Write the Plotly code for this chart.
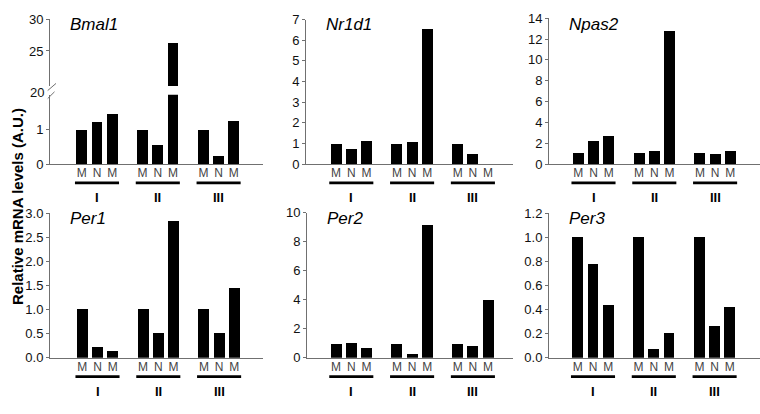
import plotly.graph_objects as go

# ---------------- data ----------------
categories = ["M", "N", "M"]
groups = ["I", "II", "III"]
genes = ["Bmal1", "Nr1d1", "Npas2", "Per1", "Per2", "Per3"]

bmal1 = [1.0, 1.22, 1.45, 1.0, 0.55, 26.2, 1.0, 0.25, 1.25]
nr1d1 = [1.0, 0.75, 1.15, 1.0, 1.07, 6.55, 1.0, 0.50, 0.0]
npas2 = [1.0, 2.2, 2.7, 1.0, 1.2, 12.8, 1.0, 0.9, 1.25]
per1 = [1.0, 0.21, 0.14, 1.0, 0.50, 2.83, 1.0, 0.52, 1.45]
per2 = [1.0, 1.02, 0.73, 1.0, 0.27, 9.15, 1.0, 0.86, 4.0]
per3 = [1.0, 0.78, 0.44, 1.0, 0.07, 0.20, 1.0, 0.26, 0.42]

y_ranges = [[0, 2], [0, 7], [0, 14], [0, 3], [0, 10], [0, 1.2]]
y_dticks = [1, 1, 2, 0.5, 2, 0.2]
y_formats = ["", "", "", ".1f", "", ".1f"]
bmal1_upper_range = [19.5, 30]
bmal1_upper_ticks = [25, 30]

# ---------------- layout helpers ----------------
W, H = 760, 414
FONT = "Liberation Sans, Arial, sans-serif"
AXCOL = "#707070"
UNIT = 15.2  # px per x unit

def px(x):
    return x / W

def py(y):
    return 1 - y / H

# per panel: axis x px, x-axis end px, group-I centre px, top px, bottom px
panels = [
    dict(x0=50, x1=263, c=97.0, top=91, bot=163),     # Bmal1 lower
    dict(x0=306, x1=513, c=351.3, top=13.0, bot=163),  # Nr1d1
    dict(x0=549, x1=760, c=593.5, top=11.7, bot=163),  # Npas2
    dict(x0=50, x1=263, c=97.5, top=214, bot=364),     # Per1
    dict(x0=307, x1=513, c=351.3, top=213.3, bot=364), # Per2
    dict(x0=549, x1=760, c=593.0, top=214, bot=364),   # Per3
]
values = [bmal1, nr1d1, npas2, per1, per2, per3]

xpos = []
for g in range(len(groups)):
    for k in range(len(categories)):
        xpos.append(g * 4 + k - 1)
ticktext = categories * len(groups)

fig = go.Figure()
layout = dict(
    width=W, height=H, autosize=False,
    margin=dict(l=0, r=0, t=0, b=0),
    paper_bgcolor="white", plot_bgcolor="white",
    showlegend=False, bargap=0,
    font=dict(family=FONT, size=12, color="#111"),
)
shapes = []
annotations = []

def add_axes(idx, p, yr, dtick, fmt, show_x=True, tickvals=None, ticktext_y=None):
    xname = "xaxis" if idx == 1 else f"xaxis{idx}"
    yname = "yaxis" if idx == 1 else f"yaxis{idx}"
    start = -1 - (p["c"] - UNIT - p["x0"]) / UNIT
    end = start + (p["x1"] - p["x0"]) / UNIT
    layout[xname] = dict(
        domain=[px(p["x0"]), px(p["x1"])], range=[start, end],
        anchor=f"y{idx}" if idx > 1 else "y",
        showline=show_x, linecolor=AXCOL, linewidth=1,
        showgrid=False, zeroline=False, ticks="",
        tickvals=xpos if show_x else [], ticktext=ticktext if show_x else [],
        showticklabels=show_x, ticklabelstandoff=-2,
        tickfont=dict(family=FONT, size=12, color="#444"),
        fixedrange=True,
    )
    yd = dict(
        domain=[py(p["bot"]), py(p["top"])], range=yr,
        anchor=f"x{idx}" if idx > 1 else "x",
        showline=True, linecolor=AXCOL, linewidth=1,
        showgrid=False, zeroline=False,
        ticks="outside", ticklen=3, tickcolor=AXCOL,
        tickfont=dict(family=FONT, size=13, color="#111"),
        fixedrange=True,
    )
    if tickvals is not None:
        yd["tickvals"] = tickvals
        if ticktext_y is not None:
            yd["ticktext"] = ticktext_y
    else:
        yd["dtick"] = dtick
        yd["tick0"] = 0
    if fmt:
        yd["tickformat"] = fmt
    layout[yname] = yd

axis_ids = [1, 3, 4, 5, 6, 7]
for i, (p, vals) in enumerate(zip(panels, values)):
    idx = axis_ids[i]
    if i == 0:
        add_axes(idx, p, y_ranges[i], None, "", tickvals=[0, 1])
    else:
        add_axes(idx, p, y_ranges[i], y_dticks[i], y_formats[i])
    xa = "x" if idx == 1 else f"x{idx}"
    ya = "y" if idx == 1 else f"y{idx}"
    fig.add_trace(go.Bar(x=xpos, y=vals, xaxis=xa, yaxis=ya, width=0.72,
                         marker=dict(color="black", line=dict(width=0))))
    # underlines and group labels
    row_under = p["bot"] + 19.5
    row_roman = p["bot"] + 34.5
    for g, name in enumerate(groups):
        c = g * 4
        shapes.append(dict(type="line", xref=xa, yref="paper",
                           x0=c - 1.45, x1=c + 1.45, y0=py(row_under), y1=py(row_under),
                           line=dict(color="black", width=2.6)))
        annotations.append(dict(text=f"<b>{name}</b>", xref=xa, yref="paper",
                                x=c, y=py(row_roman), showarrow=False,
                                font=dict(family=FONT, size=13, color="black"),
                                xanchor="center", yanchor="middle"))
    # gene title
    title_y = 18 if p["bot"] < 200 else 219
    annotations.append(dict(text=f"<i>{genes[i]}</i>", xref="paper", yref="paper",
                            x=px(p["x0"] + 18), y=py(title_y), showarrow=False,
                            xanchor="left", yanchor="middle",
                            font=dict(family=FONT, size=17, color="black")))

# Bmal1 upper (broken) segment
pu = dict(x0=50, x1=263, c=97.0, top=12.5, bot=82)
add_axes(2, pu, bmal1_upper_range, None, "", show_x=False, tickvals=bmal1_upper_ticks)
fig.add_trace(go.Bar(x=xpos, y=bmal1, xaxis="x2", yaxis="y2", width=0.72,
                     marker=dict(color="black", line=dict(width=0))))
# break marks on the y axis
shapes.append(dict(type="line", xref="paper", yref="paper",
                   x0=px(47.7), x1=px(56), y0=py(86.7), y1=py(79.3),
                   line=dict(color=AXCOL, width=1)))
shapes.append(dict(type="line", xref="paper", yref="paper",
                   x0=px(47.7), x1=px(54.5), y0=py(95), y1=py(88),
                   line=dict(color=AXCOL, width=1)))
annotations.append(dict(text="20", xref="paper", yref="paper",
                        x=px(46), y=py(88.5), showarrow=False,
                        xanchor="right", yanchor="middle",
                        font=dict(family=FONT, size=13, color="#111")))

# global y title
annotations.append(dict(text="<b>Relative mRNA levels (A.U.)</b>", xref="paper", yref="paper",
                        x=px(17.5), y=py(207), textangle=-90, showarrow=False,
                        xanchor="center", yanchor="middle",
                        font=dict(family=FONT, size=15, color="black")))

layout["shapes"] = shapes
layout["annotations"] = annotations
fig.update_layout(**layout)
fig.write_html("out.html", config={"displayModeBar": False},
               post_script="document.body.style.margin='0';document.body.style.padding='0';")
